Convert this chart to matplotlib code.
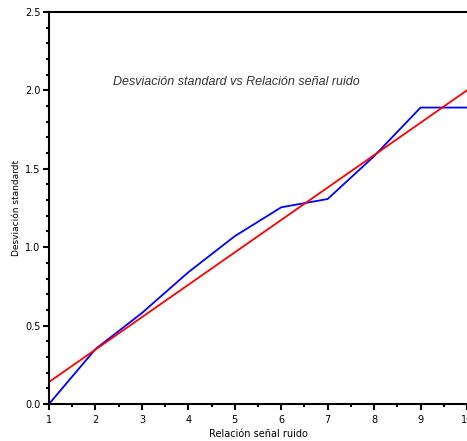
import numpy as np
import matplotlib.pyplot as plt
from matplotlib.ticker import MultipleLocator

# datos
snr = [1, 2, 3, 4, 5, 6, 7, 8, 9, 10]
desv = [0.0, 0.35, 0.58, 0.84, 1.07, 1.254, 1.307, 1.58, 1.89, 1.89]
ajuste_x = [1, 10]
ajuste_y = [0.14, 2.0]

fig = plt.figure(figsize=(4.67, 4.41), dpi=100)
ax = fig.add_axes([0.105, 0.084, 0.895, 0.889])

ax.plot(snr, desv, color='#0000ff', lw=1.3)
ax.plot(ajuste_x, ajuste_y, color='#ff0000', lw=1.3)

ax.set_xlim(1, 10)
ax.set_ylim(0, 2.5)
ax.xaxis.set_major_locator(MultipleLocator(1))
ax.xaxis.set_minor_locator(MultipleLocator(0.5))
ax.yaxis.set_major_locator(MultipleLocator(0.5))
ax.yaxis.set_minor_locator(MultipleLocator(0.1))
ax.yaxis.set_major_formatter(plt.FormatStrFormatter('%.1f'))

for s in ['left', 'bottom', 'top']:
    ax.spines[s].set_linewidth(1.5)
ax.spines['right'].set_visible(False)

ax.tick_params(which='major', length=4, width=1.5, labelsize=7, pad=2)
ax.tick_params(axis='x', which='major', pad=4)
ax.tick_params(which='minor', length=2.5, width=1.5)
ax.tick_params(axis='x', which='both', top=False)

ax.text(5.04, 2.05, 'Desviación standard vs Relación señal ruido',
        ha='center', va='center', fontsize=9, style='italic',
        family=['Liberation Sans', 'DejaVu Sans'], color='#333333')

ax.set_xlabel('Relación señal ruido', fontsize=7, labelpad=3)
ax.set_ylabel('Desviación standardt', fontsize=6.5, labelpad=3)

fig.savefig('out.png', dpi=100)
